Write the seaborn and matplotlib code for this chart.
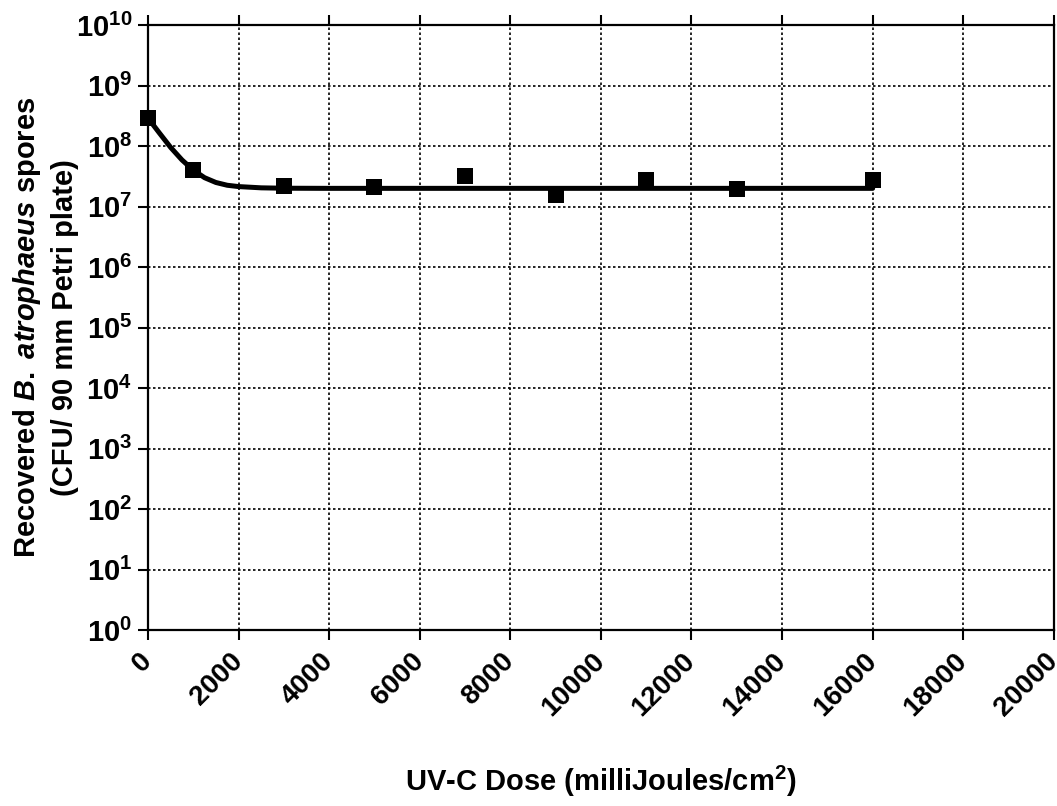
import matplotlib
matplotlib.use("Agg")
import matplotlib.pyplot as plt
import matplotlib.ticker as mticker
import pandas as pd
import seaborn as sns

# -----------------------------
# data
# -----------------------------
dose = [0, 1000, 3000, 5000, 7000, 9000, 11000, 13000, 16000]
spores = [2.9e8, 4.0e7, 2.2e7, 2.1e7, 3.2e7, 1.55e7, 2.8e7, 1.95e7, 2.7e7]

# fitted curve
fit_dose = [0, 250, 500, 750, 1000, 1250, 1500, 1750, 2000, 2500, 3000,
            4000, 6000, 8000, 10000, 12000, 14000, 16000]
fit_spores = [2.9e8, 1.65e8, 9.5e7, 5.9e7, 4.0e7, 3.0e7, 2.5e7, 2.25e7, 2.14e7,
              2.04e7, 2.01e7, 2.0e7, 2.0e7, 2.0e7, 2.0e7, 2.0e7, 2.0e7, 2.0e7]

x_ticks = list(range(0, 20001, 2000))
y_exps = list(range(0, 11))

df = pd.DataFrame({"dose": dose, "spores": spores})
fit_df = pd.DataFrame({"dose": fit_dose, "spores": fit_spores})

# -----------------------------
# style
# -----------------------------
sns.set_style("ticks")
plt.rcParams["font.family"] = ["Liberation Sans", "DejaVu Sans"]
plt.rcParams["font.weight"] = "bold"
plt.rcParams["text.color"] = "black"
plt.rcParams["axes.labelcolor"] = "black"
plt.rcParams["xtick.color"] = "black"
plt.rcParams["ytick.color"] = "black"
plt.rcParams["mathtext.fontset"] = "custom"
plt.rcParams["mathtext.rm"] = "Liberation Sans:bold"
plt.rcParams["mathtext.it"] = "Liberation Sans:italic:bold"
plt.rcParams["mathtext.bf"] = "Liberation Sans:bold"

fig = plt.figure(figsize=(10.57, 8.06), dpi=100)
ax = fig.add_axes([0.140, 0.218, 0.857, 0.751])

sns.lineplot(data=fit_df, x="dose", y="spores", ax=ax, color="black",
             linewidth=3.6, zorder=3)
sns.scatterplot(data=df, x="dose", y="spores", ax=ax, marker="s", s=135,
                color="black", edgecolor="black", linewidth=0, zorder=4,
                clip_on=False)

ax.set_yscale("log")
ax.set_xlim(0, 20000)
ax.set_ylim(1e0, 1e10)
ax.set_xticks(x_ticks)
ax.set_xticklabels([str(t) for t in x_ticks], rotation=45, ha="right",
                   va="center", rotation_mode="anchor")
ax.set_yticks([10.0 ** e for e in y_exps])
ax.set_yticklabels([r"$10^{%d}$" % e for e in y_exps])
ax.yaxis.set_minor_locator(mticker.NullLocator())

ax.tick_params(axis="both", which="major", direction="out", length=7.5,
               width=1.5, color="black", labelcolor="black")
ax.tick_params(axis="x", top=True, labeltop=False, pad=12, labelsize=20)
ax.tick_params(axis="y", pad=4, labelsize=21)

ax.grid(True, which="major", color="black", linestyle=(0, (1.5, 1.5)),
        linewidth=1.2)
ax.set_axisbelow(True)
for sp in ax.spines.values():
    sp.set_visible(True)
    sp.set_linewidth(1.6)
    sp.set_color("black")

ax.set_xlabel(r"UV-C Dose (milliJoules/cm$^{2}$)", fontsize=21,
              fontweight="bold", color="black")
ax.xaxis.set_label_coords(0.5, -0.221)
ax.set_ylabel("Recovered $\\it{B.\\ atrophaeus}$ spores\n(CFU/ 90 mm Petri plate)",
              fontsize=21, fontweight="bold", linespacing=1.35, color="black")
ax.yaxis.set_label_coords(-0.076, 0.5)

for lbl in ax.get_xticklabels() + ax.get_yticklabels():
    lbl.set_fontweight("bold")

fig.savefig("out.png", dpi=100)
plt.close(fig)
